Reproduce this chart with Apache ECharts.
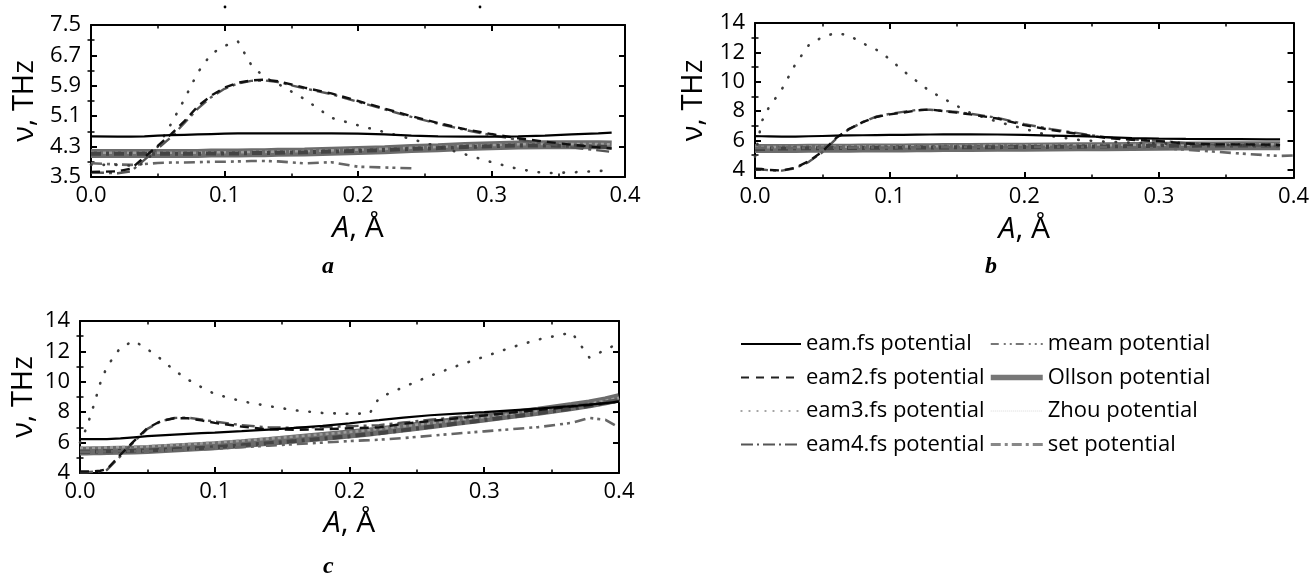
<!DOCTYPE html>
<html>
<head>
<meta charset="utf-8">
<script src="https://cdn.jsdelivr.net/npm/echarts@6/dist/echarts.min.js"></script>
<style>
  html, body { margin: 0; padding: 0; background: #fff; }
  #chart { width: 1312px; height: 580px; }
</style>
</head>
<body>
<div id="chart"></div>
<script>
// ---- series names (legend order) ----
const legendLeft  = ['eam.fs potential', 'eam2.fs potential', 'eam3.fs potential', 'eam4.fs potential'];
const legendRight = ['meam potential', 'Ollson potential', 'Zhou potential', 'set potential'];

// ---- tick values ----
const xTickStep = 0.1;
const yTicksA = [3.5, 4.3, 5.1, 5.9, 6.7, 7.5];
const yMinorA = [3.9, 4.7, 5.5, 6.3, 7.1];
const yTicksBC = [4, 6, 8, 10, 12, 14];
const yMinorBC = [5, 7, 9, 11, 13];

// ---- panel a: amplitude A (Å) vs frequency ν (THz) ----
const xA = [0, 0.02, 0.03, 0.04, 0.05, 0.06, 0.07, 0.08, 0.09, 0.1, 0.11, 0.12, 0.13, 0.14,
            0.16, 0.18, 0.2, 0.22, 0.24, 0.26, 0.28, 0.3, 0.32, 0.34, 0.36, 0.38, 0.39];
const aEam  = [4.57, 4.56, 4.56, 4.57, 4.59, 4.60, 4.61, 4.62, 4.63, 4.64, 4.65, 4.65, 4.65, 4.65,
               4.65, 4.65, 4.64, 4.62, 4.59, 4.57, 4.56, 4.56, 4.57, 4.59, 4.62, 4.65, 4.67];
const aEam2 = [3.63, 3.65, 3.72, 4.02, 4.32, 4.63, 4.97, 5.36, 5.64, 5.85, 5.98, 6.04, 6.06, 6.02,
               5.85, 5.70, 5.50, 5.30, 5.10, 4.92, 4.76, 4.63, 4.52, 4.43, 4.35, 4.28, 4.25];
const aEam3 = [3.82, 3.82, 3.80, 3.85, 4.30, 4.90, 5.55, 6.25, 6.74, 6.95, 7.07, 6.45, 6.12, 5.95,
               5.55, 5.06, 4.86, 4.68, 4.50, 4.30, 4.10, 3.89, 3.71, 3.60, 3.62, 3.66, 3.67];
const aEam4 = [3.62, 3.60, 3.65, 3.95, 4.25, 4.55, 4.92, 5.30, 5.60, 5.82, 5.96, 6.03, 6.04, 6.00,
               5.83, 5.68, 5.48, 5.28, 5.08, 4.90, 4.74, 4.60, 4.48, 4.38, 4.28, 4.20, 4.16];
const aMeam = [3.86, 3.83, 3.82, 3.84, 3.87, 3.88, 3.88, 3.89, 3.90, 3.90, 3.91, 3.92, 3.92, 3.91,
               3.86, 3.89, 3.77, 3.75, 3.73, null, null, null, null, null, null, null, null];
const aOllson = [4.12, 4.12, 4.12, 4.12, 4.12, 4.12, 4.12, 4.12, 4.13, 4.13, 4.13, 4.14, 4.14, 4.15,
                 4.16, 4.18, 4.20, 4.22, 4.25, 4.27, 4.30, 4.32, 4.34, 4.35, 4.35, 4.35, 4.34];
const aZhou = [4.14, 4.14, 4.14, 4.14, 4.14, 4.14, 4.14, 4.14, 4.15, 4.15, 4.15, 4.16, 4.16, 4.17,
               4.18, 4.20, 4.22, 4.24, 4.27, 4.29, 4.32, 4.34, 4.36, 4.37, 4.37, 4.37, 4.36];
const aSet  = [4.11, 4.11, 4.11, 4.11, 4.11, 4.11, 4.11, 4.11, 4.12, 4.12, 4.12, 4.13, 4.13, 4.14,
               4.15, 4.17, 4.19, 4.21, 4.24, 4.26, 4.29, 4.31, 4.33, 4.33, 4.32, 4.30, 4.28];

// ---- panel b ----
const xB = [0, 0.005, 0.01, 0.02, 0.03, 0.04, 0.05, 0.06, 0.07, 0.08, 0.09, 0.1, 0.11, 0.12, 0.13,
            0.14, 0.15, 0.16, 0.18, 0.2, 0.22, 0.24, 0.26, 0.28, 0.3, 0.32, 0.34, 0.36, 0.38, 0.39, 0.4];
const bEam  = [6.30, 6.29, 6.28, 6.26, 6.27, 6.29, 6.31, 6.33, 6.35, 6.36, 6.37, 6.38, 6.39, 6.40, 6.41,
               6.42, 6.42, 6.42, 6.41, 6.38, 6.34, 6.30, 6.24, 6.17, 6.13, 6.11, 6.10, 6.09, 6.08, 6.08, null];
const bEam2 = [4.08, 4.06, 4.00, 3.96, 4.15, 4.60, 5.25, 6.15, 6.80, 7.25, 7.60, 7.78, 7.90, 8.05, 8.12,
               8.00, 7.90, 7.78, 7.50, 7.05, 6.72, 6.45, 6.18, 6.05, 5.96, 5.80, 5.74, 5.74, 5.72, 5.70, null];
const bEam3 = [4.90, 7.30, 8.20, 9.50, 11.20, 12.50, 13.05, 13.32, 13.15, 12.62, 12.19, 11.55, 10.75, 10.05, 9.35,
               8.85, 8.35, 7.88, 7.28, 6.80, 6.30, 6.05, 5.92, 5.85, 5.80, 5.76, 5.72, 5.68, 5.65, 5.64, null];
const bEam4 = [4.05, 4.03, 3.98, 3.95, 4.12, 4.55, 5.20, 6.10, 6.78, 7.25, 7.62, 7.82, 7.95, 8.08, 8.10,
               8.02, 7.94, 7.82, 7.55, 7.12, 6.78, 6.50, 6.22, 6.08, 5.98, 5.82, 5.72, 5.68, 5.64, 5.62, null];
const bMeam = [5.50, 5.50, 5.50, 5.50, 5.50, 5.50, 5.52, 5.52, 5.52, 5.53, 5.53, 5.53, 5.54, 5.54, 5.55,
               5.55, 5.55, 5.56, 5.56, 5.57, 5.57, 5.57, 5.56, 5.53, 5.48, 5.38, 5.25, 5.12, 5.00, 4.95, 4.98];
const bOllson = [5.45, 5.45, 5.45, 5.46, 5.46, 5.47, 5.47, 5.48, 5.48, 5.49, 5.49, 5.50, 5.50, 5.51, 5.51,
                 5.52, 5.52, 5.53, 5.54, 5.55, 5.56, 5.57, 5.58, 5.60, 5.61, 5.62, 5.63, 5.64, 5.65, 5.65, null];
const bZhou = [5.55, 5.55, 5.55, 5.56, 5.56, 5.57, 5.57, 5.58, 5.58, 5.59, 5.59, 5.60, 5.60, 5.61, 5.61,
               5.62, 5.62, 5.63, 5.64, 5.65, 5.66, 5.67, 5.68, 5.70, 5.71, 5.72, 5.73, 5.74, 5.75, 5.75, null];
const bSet  = [5.40, 5.42, 5.44, 5.46, 5.47, 5.48, 5.48, 5.49, 5.50, 5.50, 5.51, 5.51, 5.52, 5.52, 5.53,
               5.53, 5.54, 5.54, 5.55, 5.56, 5.57, 5.58, 5.60, 5.62, 5.64, 5.65, 5.66, 5.66, 5.66, 5.66, null];

// ---- panel c ----
const xC = [0, 0.005, 0.01, 0.015, 0.02, 0.03, 0.04, 0.05, 0.06, 0.07, 0.08, 0.09, 0.1, 0.12, 0.14,
            0.16, 0.18, 0.2, 0.215, 0.222, 0.24, 0.26, 0.28, 0.3, 0.32, 0.34, 0.365, 0.378, 0.39, 0.4];
const cEam  = [6.23, 6.23, 6.23, 6.23, 6.23, 6.28, 6.35, 6.42, 6.48, 6.53, 6.58, 6.62, 6.66, 6.75, 6.86,
               6.97, 7.10, 7.27, 7.42, 7.48, 7.64, 7.80, 7.90, 8.00, 8.12, 8.24, 8.40, 8.50, 8.60, 8.70];
const cEam2 = [4.10, 4.10, 4.12, 4.15, 4.25, 5.20, 6.10, 6.95, 7.42, 7.60, 7.60, 7.46, 7.30, 7.05, 6.87,
               6.84, 6.88, 6.94, 6.98, 7.00, 7.24, 7.42, 7.60, 7.78, 7.97, 8.14, 8.37, 8.47, 8.60, 8.70];
const cEam3 = [6.00, 7.00, 8.40, 9.90, 11.00, 12.25, 12.69, 12.15, 11.50, 10.75, 10.15, 9.65, 9.20, 8.72, 8.40,
               8.12, 7.95, 7.89, 7.92, 8.95, 9.65, 10.40, 11.05, 11.65, 12.26, 12.78, 13.24, 11.60, 12.10, 12.55];
const cEam4 = [4.05, 4.05, 4.08, 4.12, 4.20, 5.10, 6.05, 6.90, 7.40, 7.62, 7.64, 7.52, 7.38, 7.15, 7.00,
               6.98, 7.02, 7.08, 7.12, 7.15, 7.32, 7.50, 7.68, 7.86, 8.05, 8.22, 8.45, 8.56, 8.70, 8.85];
const cMeam = [5.40, 5.40, 5.40, 5.41, 5.42, 5.43, 5.44, 5.45, 5.47, 5.50, 5.53, 5.56, 5.60, 5.70, 5.80,
               5.90, 6.00, 6.10, 6.16, 6.19, 6.30, 6.45, 6.60, 6.74, 6.88, 7.02, 7.30, 7.62, 7.50, 7.00];
const cOllson = [5.45, 5.45, 5.46, 5.47, 5.48, 5.50, 5.52, 5.55, 5.60, 5.65, 5.70, 5.75, 5.80, 5.93, 6.08,
                 6.24, 6.40, 6.56, 6.70, 6.77, 6.96, 7.18, 7.40, 7.62, 7.84, 8.06, 8.38, 8.55, 8.75, 8.95];
const cZhou = [5.65, 5.65, 5.66, 5.67, 5.68, 5.70, 5.72, 5.75, 5.80, 5.85, 5.90, 5.95, 6.00, 6.12, 6.26,
               6.40, 6.55, 6.70, 6.83, 6.90, 7.08, 7.28, 7.48, 7.68, 7.90, 8.10, 8.40, 8.56, 8.75, 8.95];
const cSet  = [5.40, 5.40, 5.41, 5.42, 5.43, 5.45, 5.46, 5.48, 5.52, 5.56, 5.60, 5.65, 5.70, 5.82, 5.96,
               6.10, 6.26, 6.42, 6.56, 6.62, 6.82, 7.04, 7.26, 7.48, 7.70, 7.93, 8.24, 8.42, 8.60, 8.80];

// ---- styling ----
const FONT = '"Open Sans", "Noto Sans", sans-serif';

const lineStyles = {
  'eam.fs potential':  { color: '#000000', width: 2.2, type: 'solid', z: 10 },
  'eam2.fs potential': { color: '#111111', width: 2.4, type: [9, 6], z: 9 },
  'eam3.fs potential': { color: '#3c3c3c', width: 2.6, type: [0.5, 12], cap: 'round', z: 8 },
  'eam4.fs potential': { color: '#555555', width: 2.4, type: [13, 5, 3, 5], z: 7 },
  'meam potential':    { color: '#666666', width: 2.6, type: [11, 5, 3, 4, 3, 5], z: 6 },
  'Ollson potential':  { color: '#6c6c6c', width: 9, type: 'solid', z: 3 },
  'Zhou potential':    { color: '#9c9c9c', width: 2.6, type: [3, 3], z: 4 },
  'set potential':     { color: '#444444', width: 4, type: [10, 5, 3, 5], z: 5 }
};

// legend samples differ a little from the plotted strokes
const legendLineStyles = {
  'eam.fs potential':  { width: 2, color: '#000' },
  'eam2.fs potential': { width: 2, type: [8, 7], color: '#222' },
  'eam3.fs potential': { width: 1.3, type: [1, 7], color: '#888' },
  'eam4.fs potential': { width: 2, type: [12, 4, 2, 4], color: '#555' },
  'meam potential':    { width: 2, type: [8, 5, 2, 4, 2, 4], color: '#777' },
  'Ollson potential':  { width: 5.5, type: 'solid', color: '#777' },
  'Zhou potential':    { width: 1, type: [1, 1], color: '#d8d8d8' },
  'set potential':     { width: 3.2, type: [10, 4, 3, 4], color: '#888' }
};
// no marker on the legend samples, only the stroke
const noMarker = { color: 'rgba(0,0,0,0)', borderColor: 'rgba(0,0,0,0)', borderWidth: 0 };

const panels = [
  { grid: { left: 91, top: 25, width: 534, height: 152 }, xs: xA, yMin: 3.5, yMax: 7.5,
    major: yTicksA, minor: yMinorA, digits: 1, yNameGap: 52, xNameGap: 36,
    series: { 'eam.fs potential': aEam, 'eam2.fs potential': aEam2, 'eam3.fs potential': aEam3,
              'eam4.fs potential': aEam4, 'meam potential': aMeam, 'Ollson potential': aOllson,
              'Zhou potential': aZhou, 'set potential': aSet } },
  { grid: { left: 755, top: 23, width: 540, height: 155 }, xs: xB, yMin: 3.45, yMax: 14,
    major: yTicksBC, minor: yMinorBC, digits: 0, yNameGap: 47, xNameGap: 36,
    series: { 'eam.fs potential': bEam, 'eam2.fs potential': bEam2, 'eam3.fs potential': bEam3,
              'eam4.fs potential': bEam4, 'meam potential': bMeam, 'Ollson potential': bOllson,
              'Zhou potential': bZhou, 'set potential': bSet } },
  { grid: { left: 80, top: 321, width: 539, height: 152 }, xs: xC, yMin: 4, yMax: 14,
    major: yTicksBC, minor: yMinorBC, digits: 0, yNameGap: 42, xNameGap: 35,
    series: { 'eam.fs potential': cEam, 'eam2.fs potential': cEam2, 'eam3.fs potential': cEam3,
              'eam4.fs potential': cEam4, 'meam potential': cMeam, 'Ollson potential': cOllson,
              'Zhou potential': cZhou, 'set potential': cSet } }
];

const drawOrder = ['Ollson potential', 'Zhou potential', 'set potential', 'meam potential',
                   'eam4.fs potential', 'eam3.fs potential', 'eam2.fs potential', 'eam.fs potential'];

function pairs(xs, ys) {
  const out = [];
  xs.forEach((x, i) => { if (ys[i] != null) out.push([x, ys[i]]); });
  return out;
}

const axisLineStyle = { color: '#000', width: 2 };
const grids = [], xAxes = [], yAxes = [], series = [];

panels.forEach((p, pi) => {
  grids.push(Object.assign({ show: false }, p.grid));

  const xBase = {
    gridIndex: pi, type: 'value', min: 0, max: 0.4, interval: xTickStep,
    axisLine: { show: true, onZero: false, lineStyle: axisLineStyle },
    axisTick: { show: true, inside: true, length: 6, lineStyle: { color: '#000', width: 2 } },
    minorTick: { show: true, splitNumber: 2, length: 3.5, lineStyle: { color: '#000', width: 1.5 } },
    splitLine: { show: false }, minorSplitLine: { show: false }
  };
  xAxes.push(Object.assign({}, xBase, {
    position: 'bottom',
    axisLabel: { show: true, fontSize: 22, color: '#000', fontFamily: FONT, margin: 8,
                 formatter: v => v.toFixed(1) },
    name: '{i|A}, Å', nameLocation: 'middle', nameGap: p.xNameGap,
    nameTextStyle: { fontSize: 30, color: '#000', fontFamily: FONT,
                     rich: { i: { fontStyle: 'italic', fontSize: 30, fontFamily: FONT, color: '#000' } } }
  }));
  xAxes.push(Object.assign({}, xBase, { position: 'top', axisLabel: { show: false } }));

  const yBase = {
    gridIndex: pi, type: 'value', min: p.yMin, max: p.yMax,
    splitLine: { show: false }, minorTick: { show: false }
  };
  ['left', 'right'].forEach(side => {
    yAxes.push(Object.assign({}, yBase, {
      position: side,
      axisLine: { show: true, onZero: false, lineStyle: axisLineStyle },
      axisTick: { show: true, inside: true, length: 6, customValues: p.major,
                  lineStyle: { color: '#000', width: 2 } },
      axisLabel: side === 'left'
        ? { show: true, customValues: p.major, fontSize: 22, color: '#000', fontFamily: FONT,
            margin: 10, formatter: v => v.toFixed(p.digits) }
        : { show: false },
      name: side === 'left' ? 'ν, THz' : '',
      nameLocation: 'middle', nameRotate: 90, nameGap: p.yNameGap,
      nameTextStyle: { fontSize: 29, color: '#000', fontFamily: FONT }
    }));
    yAxes.push(Object.assign({}, yBase, {
      position: side,
      axisLine: { show: false },
      axisTick: { show: true, inside: true, length: 3.5, customValues: p.minor,
                  lineStyle: { color: '#000', width: 1.5 } },
      axisLabel: { show: false }
    }));
  });

  drawOrder.forEach(name => {
    const st = lineStyles[name];
    series.push({
      type: 'line', name, xAxisIndex: pi * 2, yAxisIndex: pi * 4,
      data: pairs(p.xs, p.series[name]),
      symbol: 'none', smooth: false, silent: true, z: st.z,
      lineStyle: { color: st.color, width: st.width, type: st.type, cap: st.cap || 'butt' },
      itemStyle: { color: st.color }
    });
  });
});

const legendText = { fontSize: 22, color: '#000', fontFamily: FONT };
const option = {
  animation: false,
  backgroundColor: '#fff',
  grid: grids,
  xAxis: xAxes,
  yAxis: yAxes,
  series,
  legend: [
    { data: legendLeft.map(n => ({ name: n, lineStyle: legendLineStyles[n], itemStyle: noMarker })),
      orient: 'vertical', left: 735, top: 328, itemWidth: 60, itemHeight: 14, itemGap: 11.5,
      selectedMode: false, textStyle: legendText },
    { data: legendRight.map(n => ({ name: n, lineStyle: legendLineStyles[n], itemStyle: noMarker })),
      orient: 'vertical', left: 983, top: 328, itemWidth: 52, itemHeight: 14, itemGap: 11.5,
      selectedMode: false, textStyle: legendText }
  ],
  graphic: [
    { type: 'text', left: 322, top: 255,
      style: { text: 'a', font: 'bold italic 24px "Liberation Serif", serif', fill: '#000' } },
    { type: 'text', left: 985, top: 255,
      style: { text: 'b', font: 'bold italic 24px "Liberation Serif", serif', fill: '#000' } },
    { type: 'text', left: 323, top: 555,
      style: { text: 'c', font: 'bold italic 24px "Liberation Serif", serif', fill: '#000' } },
    { type: 'circle', shape: { cx: 225, cy: 7, r: 1.4 }, style: { fill: '#000' } },
    { type: 'circle', shape: { cx: 480, cy: 7, r: 1.4 }, style: { fill: '#000' } }
  ]
};

const chart = echarts.init(document.getElementById('chart'), null, { renderer: 'canvas' });
chart.setOption(option);
</script>
</body>
</html>
